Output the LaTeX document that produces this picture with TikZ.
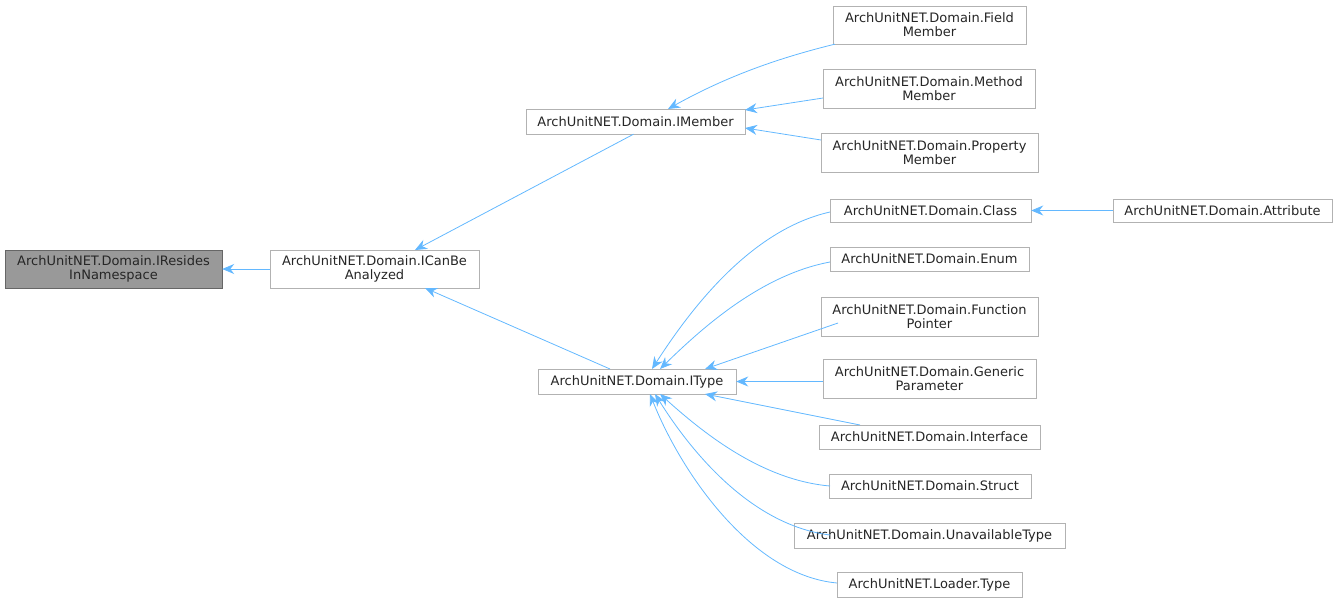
\documentclass[tikz,border=0pt]{standalone}
\usepackage{fontspec}
\setmainfont{DejaVu Sans}
\usetikzlibrary{arrows.meta}
\definecolor{edge}{HTML}{63B8FF}
\begin{document}
\begin{tikzpicture}[x=1pt,y=-1pt,
 box/.style={draw=black!30,fill=white,inner sep=0pt,font=\fontsize{13}{14}\selectfont,align=center,text=black!85},
 e/.style={draw=edge,-{Stealth[length=12pt,width=10pt]},line width=0.8pt}]
\useasboundingbox (0,0) rectangle (1337,605);
\newcommand\nb[7]{\node[box,#6,minimum width={#4-#2},minimum height={#5-#3}] (#1) at ({(#2+#4)/2},{(#3+#5)/2}) {#7};}
\nb{res}{5}{250}{222}{288}{fill=black!40,draw=black!60}{ArchUnitNET.Domain.IResides\\InNamespace}
\nb{can}{270}{250}{479}{288}{}{ArchUnitNET.Domain.ICanBe\\Analyzed}
\nb{mem}{526}{109}{745}{134}{}{ArchUnitNET.Domain.IMember}
\nb{typ}{538}{369}{736}{394}{}{ArchUnitNET.Domain.IType}
\nb{fld}{833}{6}{1026}{44}{}{ArchUnitNET.Domain.Field\\Member}
\nb{mth}{823}{69}{1035}{108}{}{ArchUnitNET.Domain.Method\\Member}
\nb{prp}{821}{133}{1038}{172}{}{ArchUnitNET.Domain.Property\\Member}
\nb{cls}{830}{199}{1031}{222}{}{ArchUnitNET.Domain.Class}
\nb{att}{1113}{199}{1332}{222}{}{ArchUnitNET.Domain.Attribute}
\nb{enm}{830}{247}{1029}{271}{}{ArchUnitNET.Domain.Enum}
\nb{fun}{821}{297}{1038}{336}{}{ArchUnitNET.Domain.Function\\Pointer}
\nb{gen}{823}{359}{1036}{398}{}{ArchUnitNET.Domain.Generic\\Parameter}
\nb{ifc}{819}{425}{1040}{449}{}{ArchUnitNET.Domain.Interface}
\nb{str}{829}{474}{1031}{498}{}{ArchUnitNET.Domain.Struct}
\nb{una}{794}{523}{1065}{548}{}{ArchUnitNET.Domain.UnavailableType}
\nb{ldr}{837}{572}{1022}{597}{}{ArchUnitNET.Loader.Type}
\draw[e] (can.west) -- (res.east);
\draw[e] (mem.south) ++(-2,0) -- (415,250);
\draw[e] (610,369) -- (425,288);
\draw[e] (fld.south west) ++(2,0) .. controls (770,60) and (720,80) .. (668,109);
\draw[e] (823,98) -- (745,110);
\draw[e] (821,140) -- (745,128);
\draw[e] (att.west) -- (cls.east);
\draw[e] (830,212) .. controls (750,230) and (690,310) .. (652,369);
\draw[e] (830,262) .. controls (760,275) and (700,330) .. (660,369);
\draw[e] (838,323) -- (705,369);
\draw[e] (gen.west |- typ.east) -- (typ.east);
\draw[e] (860,425) -- (705,394);
\draw[e] (830,486) .. controls (760,480) and (700,430) .. (660,394);
\draw[e] (830,535) .. controls (750,525) and (690,450) .. (655,394);
\draw[e] (837,583) .. controls (750,575) and (680,470) .. (650,394);
\end{tikzpicture}
\end{document}
